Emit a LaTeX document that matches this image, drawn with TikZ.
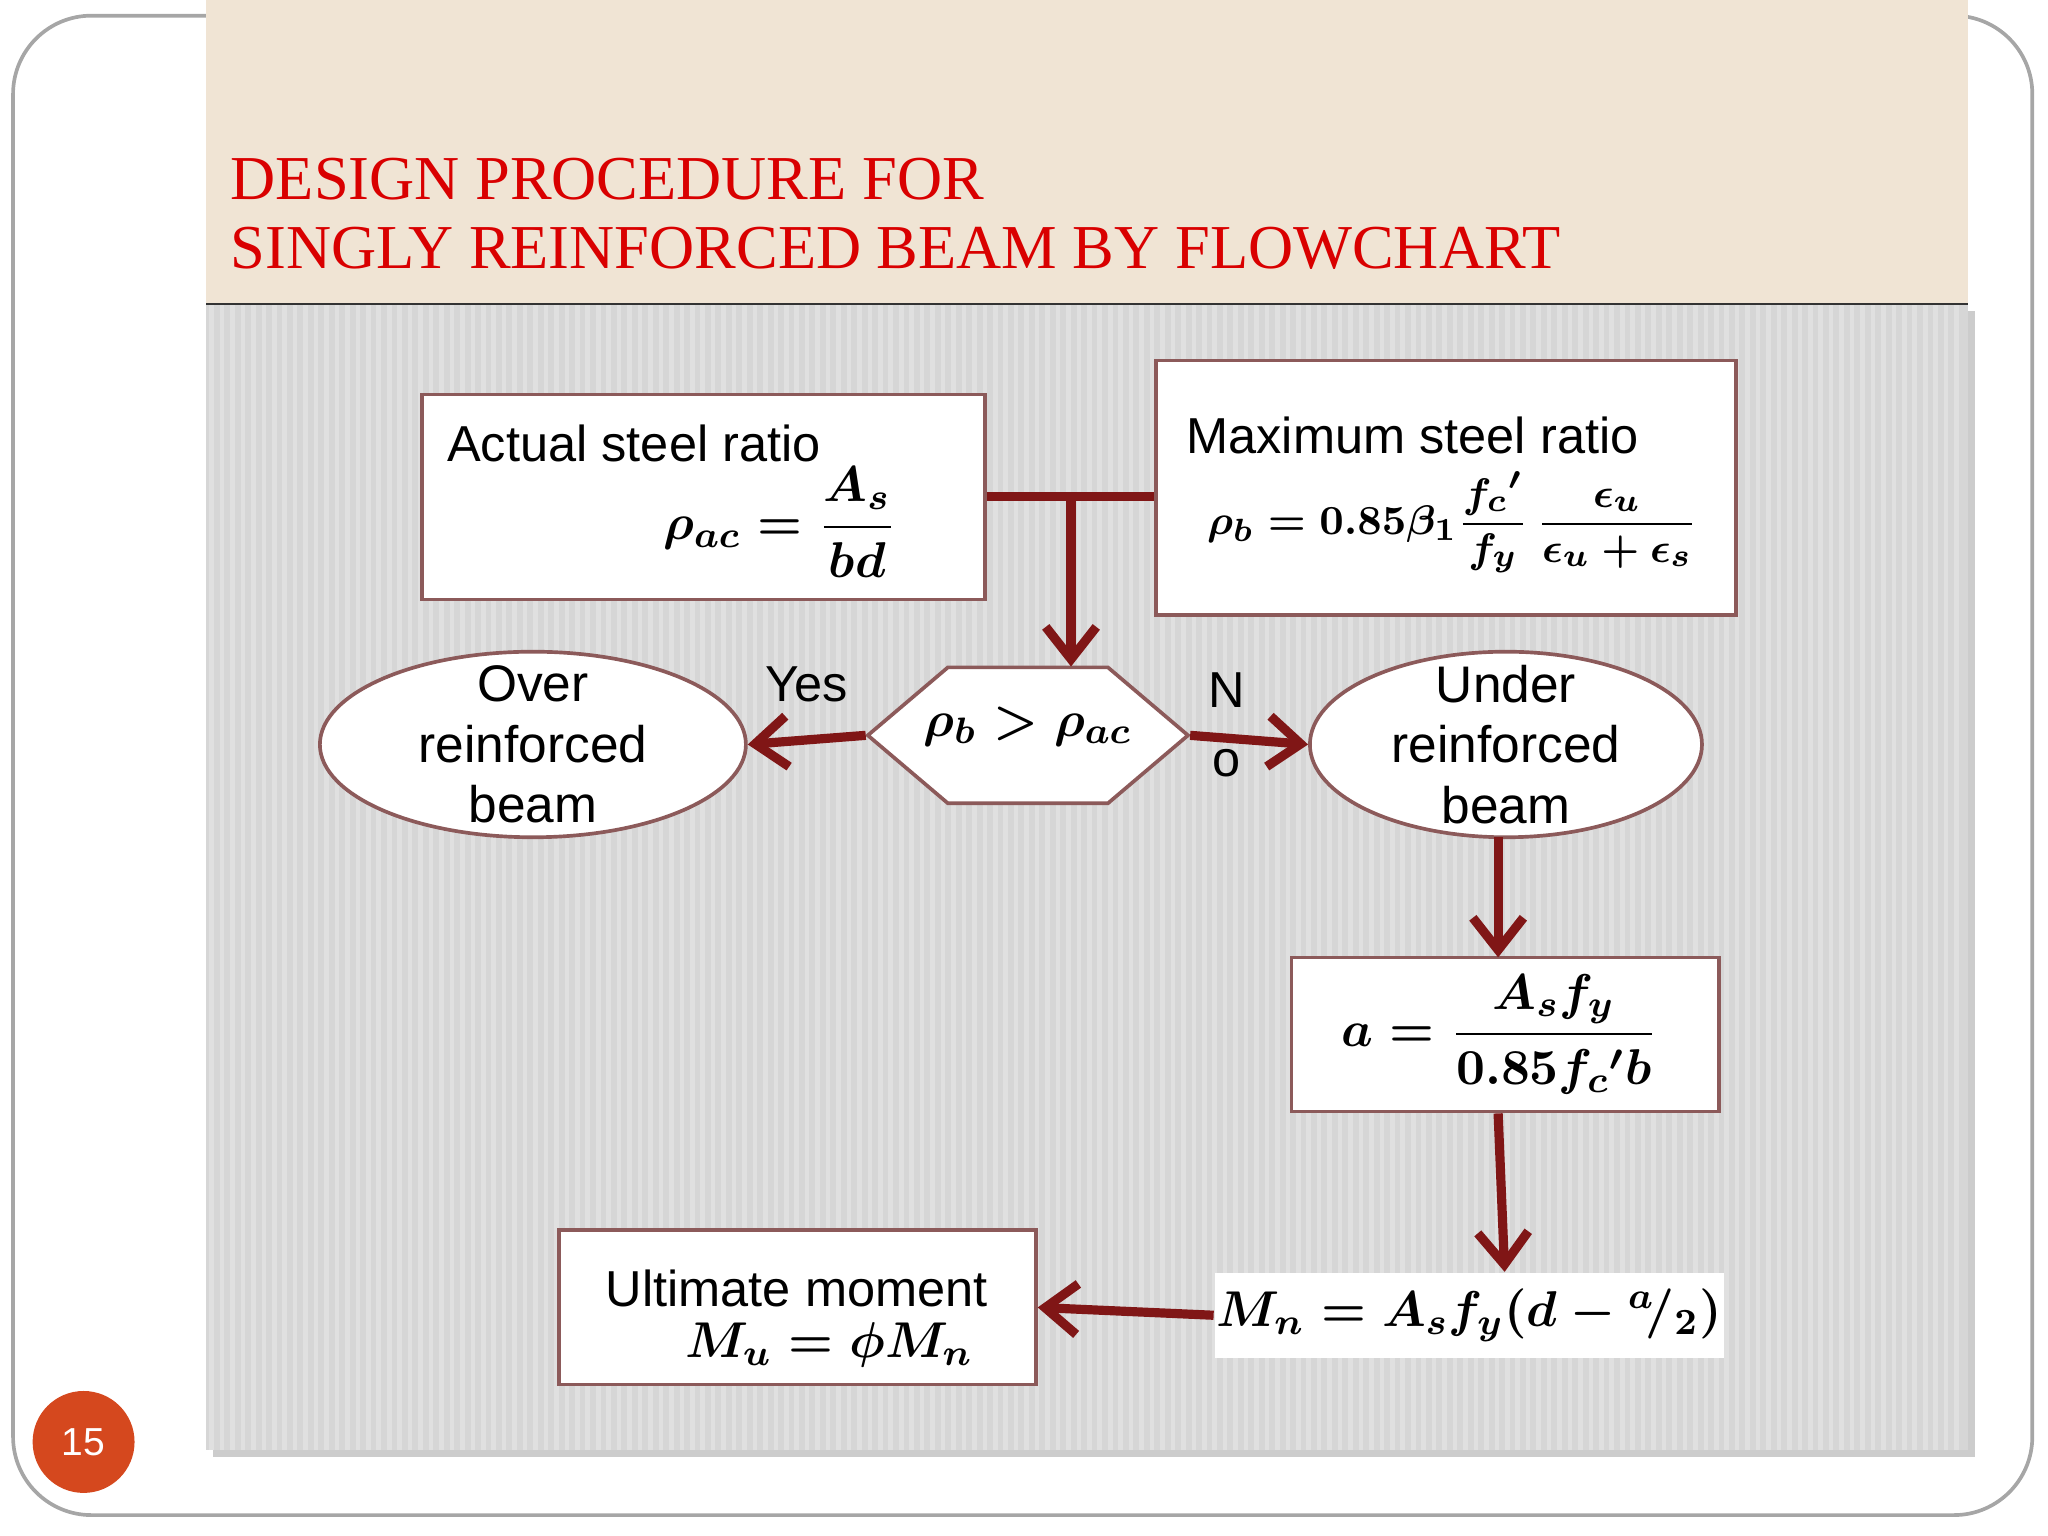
\documentclass[tikz,border=0pt]{standalone}
\usepackage{amsmath}
\usepackage{fontspec}
\setmainfont{Liberation Sans}
\newfontfamily\titlefont{Liberation Serif}
\usetikzlibrary{arrows.meta,positioning,shapes.geometric,shadows}
\definecolor{beige}{RGB}{240,228,212}
\definecolor{panel}{RGB}{214,214,214}
\definecolor{flow}{RGB}{128,22,22}
\definecolor{frame}{RGB}{140,90,90}
\definecolor{pageno}{RGB}{213,72,30}
\tikzset{
    % boxes with formulas
    box/.style={
           rectangle,
           draw=frame, thick,
           fill=white,
           inner sep=0pt},
    oval/.style={
           ellipse,
           draw=frame, thick,
           fill=white,
           inner sep=0pt},
    ovaltext/.style={
           align=center,
           font=\fontsize{11.2}{13.2}\selectfont},
    % connector style
    flowline/.style={
           draw=flow,
           line width=2pt,
           -{Straight Barb[length=7pt,width=11pt,line width=2pt]}},
    lbl/.style={font=\fontsize{11}{13}\selectfont}
}
\begin{document}
\begin{tikzpicture}[x=0.01cm,y=-0.01cm]
 \useasboundingbox (0,0) rectangle (1568,1176);
 %frame and panels
    \draw[gray!70,thick,rounded corners=0.6cm] (10,12) rectangle (1556,1160);
    \fill[beige] (158,0) rectangle (1507,233);
    \fill[panel,drop shadow={shadow xshift=1.5pt,shadow yshift=-1.5pt,opacity=.4}] (158,233) rectangle (1507,1110);
    \foreach \x in {162,170,...,1504}
        \draw[white,opacity=.25,line width=1pt] (\x,233) -- (\x,1110);
    \draw[black!80] (158,233) -- (1507,233);
    \node[anchor=north west,align=left,text=red!85!black,inner sep=0pt,
          font=\titlefont\fontsize{13.6}{15.2}\selectfont] (title) at (176,120)
          {DESIGN PROCEDURE FOR\\SINGLY REINFORCED BEAM BY FLOWCHART};
    \node[circle,fill=pageno,minimum size=0.78cm,inner sep=0pt,text=white,
          font=\fontsize{8.5}{10}\selectfont] (page) at (64,1104) {15};
 %nodes
    \node[box,minimum width=4.31cm,minimum height=1.57cm] (actual) at (538.5,380.5) {};
    \node[lbl,anchor=north west] at (330,313) {Actual steel ratio};
    \node[lbl] at (597,400) {$\boldsymbol{\rho_{ac}=\dfrac{A_s}{bd}}$};
    \node[box,minimum width=4.44cm,minimum height=1.95cm] (maxratio) at (1107,373.5) {};
    \node[lbl,anchor=north west] at (896,307) {Maximum steel ratio};
    \node[font=\fontsize{9.5}{11}\selectfont] at (1112,400) {$\boldsymbol{\rho_b=0.85\beta_1\dfrac{f_c{}'}{f_y}\,\dfrac{\epsilon_u}{\epsilon_u+\epsilon_s}}$};
    \coordinate (junction) at (820,380);
    \node[regular polygon,regular polygon sides=6,draw=frame,thick,fill=white,
          minimum width=2.45cm,xscale=1,yscale=0.49,inner sep=0pt] (check) at (787,563) {};
    \node[lbl] at (787,556) {$\boldsymbol{\rho_b>\rho_{ac}}$};
    \node[oval,minimum width=3.26cm,minimum height=1.42cm] (over) at (408,570) {};
    \node[ovaltext] at (408,570) {Over\\reinforced\\beam};
    \node[oval,minimum width=3.0cm,minimum height=1.42cm] (under) at (1153,570) {};
    \node[ovaltext] at (1153,570) {Under\\reinforced\\beam};
    \node[box,minimum width=3.27cm,minimum height=1.18cm] (depth) at (1152.5,792) {};
    \node[lbl] at (1148,792) {$\boldsymbol{a=\dfrac{A_sf_y}{0.85f_c{}'b}}$};
    \node[fill=white,minimum width=3.9cm,minimum height=0.65cm,inner sep=0pt,
          font=\fontsize{11.2}{13}\selectfont] (nominal) at (1125,1007)
          {$\boldsymbol{M_n=A_sf_y(d-{}^{a}\!/_{2})}$};
    \node[box,minimum width=3.65cm,minimum height=1.18cm] (ultimate) at (610.5,1001) {};
    \node[lbl,anchor=north] at (610,960) {Ultimate moment};
    \node[lbl] at (635,1030) {$\boldsymbol{M_u=\phi M_n}$};
 %edges
    \draw[flow,line width=2pt] (actual.east |- junction) -- (maxratio.west |- junction);
    \draw[flowline] (junction) -- (junction |- check.north);
    \draw[flowline] (check.west) -- (over.east) node[midway,above=4pt,lbl] {Yes};
    \draw[flowline] (check.east) -- (under.west);
    \node[lbl,align=center,font=\fontsize{11}{15}\selectfont] (no) at (939,555) {N\\o};
    \draw[flowline] (1147,641) -- (1147,733);
    \draw[flowline] (depth.south -| 1147,0) -- (nominal.north -| 1152,0);
    \draw[flowline] (nominal.west) -- (ultimate.east);
\end{tikzpicture}
\end{document}
